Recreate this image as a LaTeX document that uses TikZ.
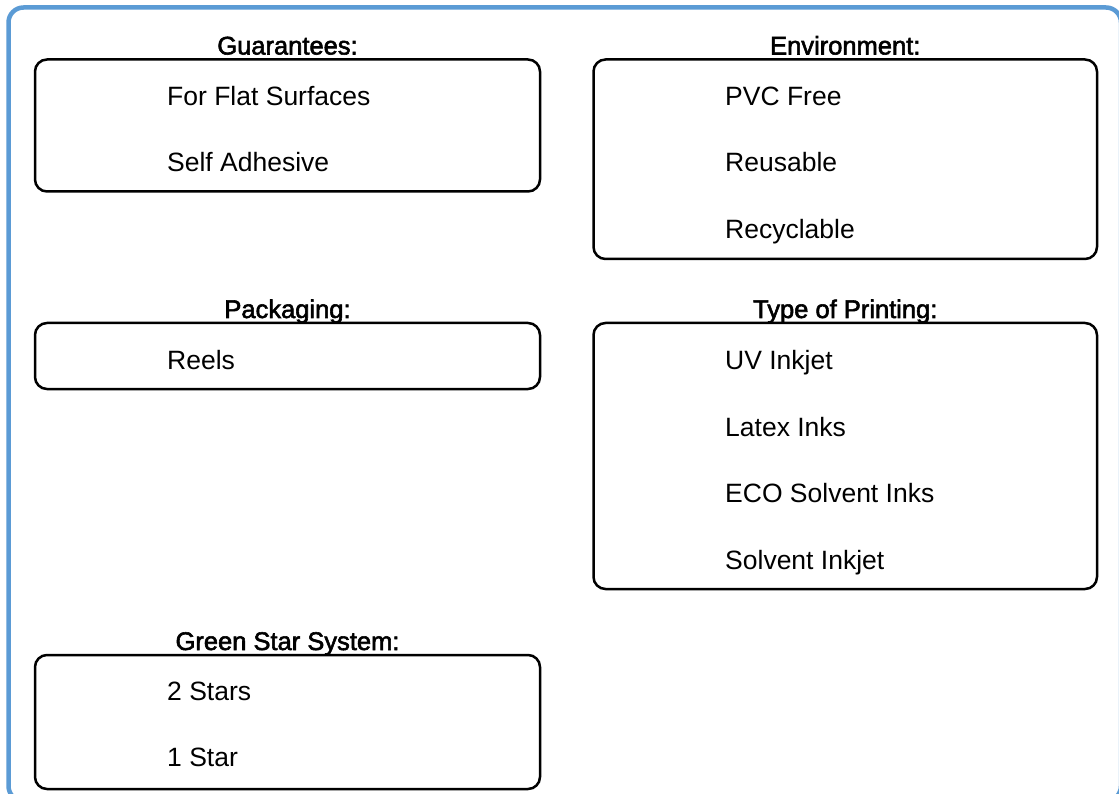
\documentclass[tikz,border=0pt]{standalone}
\usepackage{fontspec}
\setmainfont{Liberation Sans}
\newfontfamily\ttlfont[FakeBold=2.2]{Liberation Sans}
\definecolor{frameblue}{RGB}{91,155,213}
\tikzset{
  box/.style={draw=black, line width=2.5pt, rounded corners=12pt, anchor=north west, inner sep=0pt, outer sep=0pt},
  ttl/.style={anchor=base, inner sep=0pt, font=\ttlfont\fontsize{25.5}{30}\selectfont, yshift=5pt},
  item/.style={anchor=base west, inner sep=0pt, font=\fontsize{26.5}{30}\selectfont}
}
\begin{document}
\begin{tikzpicture}[x=1pt,y=-1pt]
\useasboundingbox (0,0) rectangle (1119,794);
\clip (0,0) rectangle (1119,794);
\fill[white] (0,0) rectangle (1119,794);
\draw[frameblue, line width=4.5pt, rounded corners=15pt] (8.5,7.5) rectangle (1121,801);
% boxes
\node[box, minimum width=505pt, minimum height=132pt] (g) at (35,59.5) {};
\node[box, minimum width=503.5pt, minimum height=199.5pt] (e) at (593.5,59.5) {};
\node[box, minimum width=505pt, minimum height=66pt] (p) at (35,323) {};
\node[box, minimum width=503.5pt, minimum height=266pt] (t) at (593.5,323) {};
\node[box, minimum width=505pt, minimum height=134pt] (s) at (35,655) {};
% titles
\node[ttl] (gt) at (g.north) {Guarantees:};
\node[ttl] (et) at (e.north) {Environment:};
\node[ttl] (pt) at (p.north) {Packaging:};
\node[ttl] (tt) at (t.north) {Type of Printing:};
\node[ttl] (st) at (s.north) {Green Star System:};
% items
\node[item] (g1) at (167,105.5) {For Flat Surfaces};
\node[item] (g2) at (167,172) {Self Adhesive};
\node[item] (e1) at (725,105.5) {PVC Free};
\node[item] (e2) at (725,172) {Reusable};
\node[item] (e3) at (725,238.5) {Recyclable};
\node[item] (p1) at (167,369.5) {Reels};
\node[item] (t1) at (725,369.5) {UV Inkjet};
\node[item] (t2) at (725,436) {Latex Inks};
\node[item] (t3) at (725,502.5) {ECO Solvent Inks};
\node[item] (t4) at (725,569) {Solvent Inkjet};
\node[item] (s1) at (167,700) {2 Stars};
\node[item] (s2) at (167,766.5) {1 Star};
\end{tikzpicture}
\end{document}
